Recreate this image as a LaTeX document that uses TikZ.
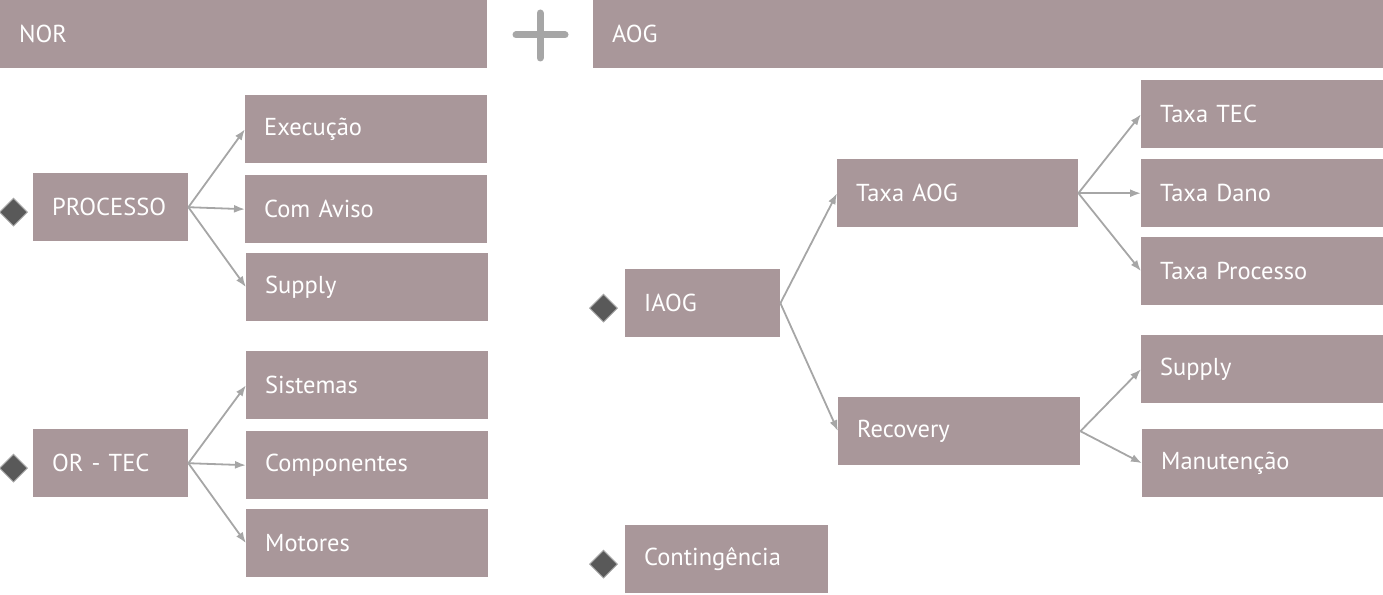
\documentclass[tikz,border=0pt]{standalone}
\usepackage{fontspec}
\setmainfont{PT Sans}
\usetikzlibrary{arrows.meta,shapes.geometric,positioning}
\definecolor{boxMauve}{RGB}{169,151,154}
\definecolor{linkGray}{RGB}{166,166,166}
\definecolor{markDark}{RGB}{89,89,89}
\tikzset{
  box/.style={fill=boxMauve,text=white,font=\fontsize{24.5}{28}\selectfont,
    anchor=north west,align=left,inner xsep=19pt,inner ysep=0pt,minimum height=68pt},
  leaf/.style={box,text width=204pt},
  parent/.style={box,text width=117pt},
  link/.style={draw=linkGray,line width=1.8pt,-{Latex[length=11pt,width=8pt]}},
  bullet/.style={diamond,fill=markDark,draw=linkGray,line width=1pt,
    inner sep=0pt,minimum size=28pt}
}
\begin{document}
\begin{tikzpicture}[x=1pt,y=-1pt]
  \useasboundingbox (0,0) rectangle (1383,594);
  % headers
  \node[box,text width=449pt] (nor) at (0,0) {NOR};
  \node[box,text width=752pt] (aog) at (593,0) {AOG};
  \draw[linkGray,line width=7pt,line cap=round] (516,35) -- (565,35);
  \draw[linkGray,line width=7pt,line cap=round] (540,13) -- (540,58);
  % NOR side
  \node[parent] (proc) at (33,173) {PROCESSO};
  \node[leaf] (exec) at (245,95) {Execução};
  \node[leaf] (aviso) at (245,175) {Com Aviso};
  \node[leaf] (supL) at (246,253) {Supply};
  \node[parent] (ortec) at (33,429) {OR - TEC};
  \node[leaf] (sist) at (246,351) {Sistemas};
  \node[leaf] (comp) at (246,431) {Componentes};
  \node[leaf] (motor) at (246,509) {Motores};
  \node[bullet,left=5pt of proc,yshift=-5pt] (bProc) {};
  \node[bullet,left=5pt of ortec,yshift=-5pt] (bOrtec) {};
  \foreach \c in {exec,aviso,supL} \draw[link] (proc.east) -- (\c.west);
  \foreach \c in {sist,comp,motor} \draw[link] (ortec.east) -- (\c.west);
  % AOG side
  \node[parent] (iaog) at (625,269) {IAOG};
  \node[leaf,text width=203pt] (taxaog) at (837,159) {Taxa AOG};
  \node[leaf] (recov) at (838,397) {Recovery};
  \node[leaf] (taxtec) at (1141,80) {Taxa TEC};
  \node[leaf] (taxdano) at (1141,159) {Taxa Dano};
  \node[leaf] (taxproc) at (1141,237) {Taxa Processo};
  \node[leaf] (supR) at (1141,335) {Supply};
  \node[leaf,text width=203pt] (manut) at (1142,429) {Manutenção};
  \node[box,text width=165pt] (conting) at (625,525) {Contingência};
  \node[bullet,left=7pt of iaog,yshift=-5pt] (bIaog) {};
  \node[bullet,left=7pt of conting,yshift=-5pt] (bConting) {};
  \foreach \c in {taxaog,recov} \draw[link] (iaog.east) -- (\c.west);
  \foreach \c in {taxtec,taxdano,taxproc} \draw[link] (taxaog.east) -- (\c.west);
  \foreach \c in {supR,manut} \draw[link] (recov.east) -- (\c.west);
\end{tikzpicture}
\end{document}
